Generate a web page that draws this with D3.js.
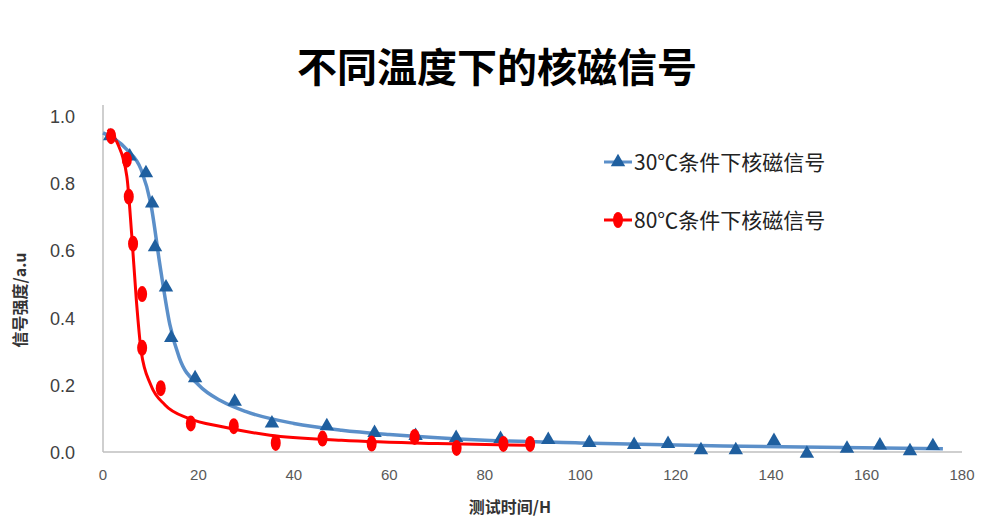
<!DOCTYPE html><html><head><meta charset="utf-8"><script src="https://cdn.jsdelivr.net/npm/d3@7"></script>
<style>body{margin:0;background:#fff}</style></head><body><svg id="c" width="1004" height="531"></svg>
<script>
const blueX=[1.5,5.6,9,10.3,10.9,13.2,14.3,19.3,27.6,35.4,46.9,56.9,65.5,74,83.3,93.3,101.9,111.3,118.4,125.3,132.6,140.6,147.5,155.9,162.8,169.1,173.9];
const blueY=[.94,.88,.83,.74,.61,.49,.34,.22,.15,.085,.077,.057,.048,.042,.039,.036,.027,.021,.024,.006,.006,.033,-.005,.01,.02,.003,.018];
const redX=[1.7,5,5.4,6.3,8.2,8.2,12.1,18.4,27.4,36.2,46,56.3,65.3,74.1,83.9,89.5];
const redY=[.94,.87,.76,.62,.47,.31,.19,.085,.077,.027,.04,.025,.045,.012,.024,.024];
const blueFitX=[0,5,8,10,12,14,16,20,25,30,40,50,60,80,100,130,176];
const blueFitY=[.95,.90,.84,.74,.55,.38,.28,.2,.15,.12,.085,.065,.052,.035,.027,.018,.01];
const redFitX=[1,3,5,6,7,8,10,13,18,25,35,50,70,89];
const redFitY=[.96,.92,.82,.65,.45,.3,.2,.14,.1,.075,.05,.035,.025,.02];
const xTicks=[0,20,40,60,80,100,120,140,160,180];
const yTicks=[0,.2,.4,.6,.8,1];
const svg=d3.select("#c");
const x=d3.scaleLinear().domain([0,180]).range([103,962]);
const y=d3.scaleLinear().domain([0,1]).range([452,116]);
svg.append("text").attr("x",497).attr("y",82).attr("text-anchor","middle").attr("font-family","Noto Sans CJK SC").attr("font-weight","bold").attr("font-size",40).text("不同温度下的核磁信号");
svg.append("line").attr("x1",103).attr("x2",962).attr("y1",452).attr("y2",452).attr("stroke","#bfbfbf").attr("stroke-width",1.5);
svg.append("line").attr("x1",103).attr("x2",103).attr("y1",452).attr("y2",105).attr("stroke","#bfbfbf").attr("stroke-width",1.5);
xTicks.forEach(t=>svg.append("text").attr("x",x(t)).attr("y",480).attr("text-anchor","middle").attr("font-family","Liberation Sans").attr("font-size",15).attr("fill","#595959").text(t));
yTicks.forEach(t=>svg.append("text").attr("x",75).attr("y",y(t)+7).attr("text-anchor","end").attr("font-family","Liberation Sans").attr("font-size",18).attr("fill","#404040").text(t.toFixed(1)));
svg.append("text").attr("x",510).attr("y",513).attr("text-anchor","middle").attr("font-family","Noto Sans CJK SC").attr("font-weight","bold").attr("font-size",16).attr("fill","#333").text("测试时间/H");
svg.append("text").attr("transform","translate(26,300) rotate(-90)").attr("text-anchor","middle").attr("font-family","Noto Sans CJK SC").attr("font-weight","bold").attr("font-size",16).attr("fill","#333").text("信号强度/a.u");
const line=d3.line().x(d=>x(d[0])).y(d=>y(d[1])).curve(d3.curveMonotoneX);
svg.append("path").attr("d",line(d3.zip(blueFitX,blueFitY))).attr("fill","none").attr("stroke","#5b8fc9").attr("stroke-width",3.5);
svg.append("path").attr("d",line(d3.zip(redFitX,redFitY))).attr("fill","none").attr("stroke","#ff0000").attr("stroke-width",3);
const tri=d3.symbol().type(d3.symbolTriangle).size(90);
d3.zip(blueX,blueY).forEach(d=>svg.append("path").attr("d",tri()).attr("transform",`translate(${x(d[0])},${y(d[1])})`).attr("fill","#1f5f9f"));
d3.zip(redX,redY).forEach(d=>svg.append("ellipse").attr("cx",x(d[0])).attr("cy",y(d[1])).attr("rx",5).attr("ry",8).attr("fill","#ff0000"));
// legend
svg.append("line").attr("x1",604).attr("x2",632).attr("y1",162).attr("y2",162).attr("stroke","#5b8fc9").attr("stroke-width",3);
svg.append("path").attr("d",tri()).attr("transform","translate(618,162)").attr("fill","#1f5f9f");
svg.append("text").attr("x",634).attr("y",170).attr("font-family","Noto Sans CJK SC").attr("font-size",21).attr("fill","#222").text("30℃条件下核磁信号");
svg.append("line").attr("x1",604).attr("x2",632).attr("y1",220).attr("y2",220).attr("stroke","#ff0000").attr("stroke-width",3);
svg.append("ellipse").attr("cx",618).attr("cy",220).attr("rx",5).attr("ry",8).attr("fill","#ff0000");
svg.append("text").attr("x",634).attr("y",228).attr("font-family","Noto Sans CJK SC").attr("font-size",21).attr("fill","#222").text("80℃条件下核磁信号");
</script></body></html>
